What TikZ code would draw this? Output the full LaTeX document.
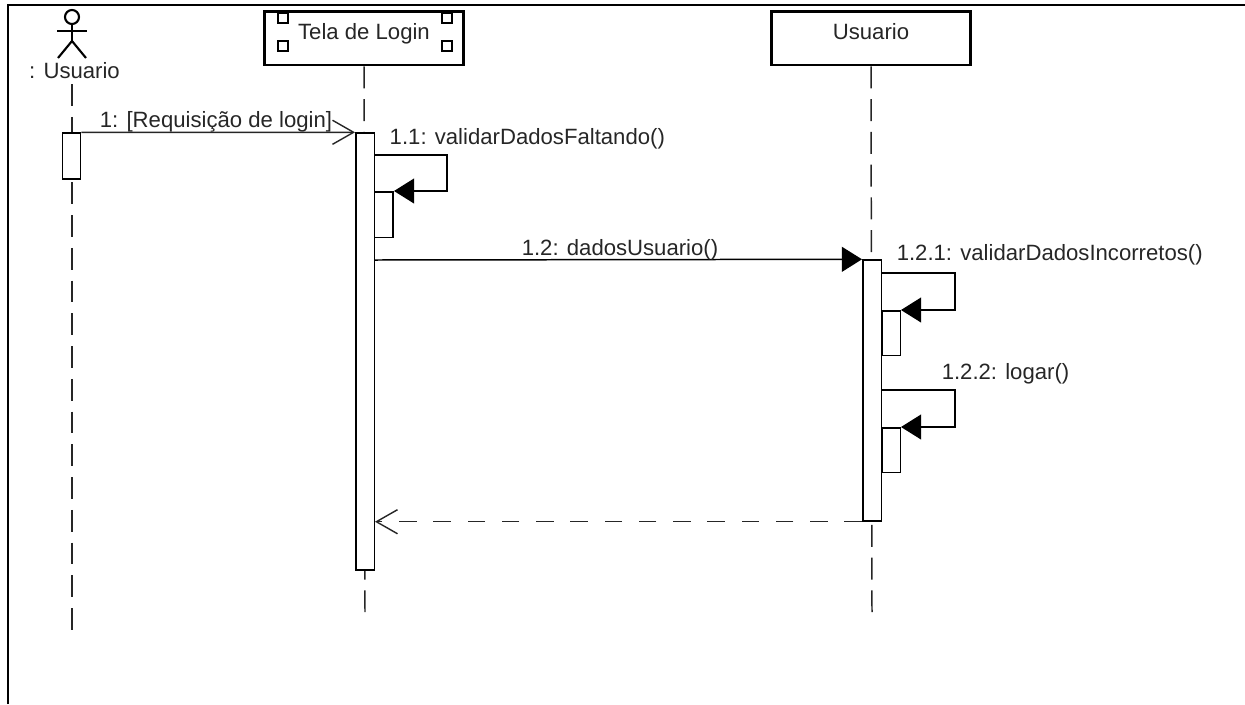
\documentclass[tikz,border=0pt]{standalone}
\usepackage{fontspec}
\setmainfont{Liberation Sans}
\usepackage{tikz}
\usetikzlibrary{arrows.meta,positioning}

\begin{document}
\begin{tikzpicture}[
  x=0.02cm, y=-0.02cm,
  line width=0.85pt,
  label/.style={inner sep=0pt, text=black!85, font=\fontsize{12.6pt}{14pt}\selectfont},
  obj/.style={draw, line width=1.7pt, fill=white, minimum width=3.98cm, minimum height=1.08cm, inner sep=0pt},
  port/.style={draw, line width=0.75pt, fill=white, minimum width=0.2cm, minimum height=0.2cm, inner sep=0pt},
  act/.style={draw, fill=white, minimum width=0.37cm, inner sep=0pt},
  life/.style={dash pattern=on 12.5pt off 6.14pt, black!85},
  call/.style={-{Triangle[length=11.5pt, width=14.2pt]}},
  open/.style={-{Straight Barb[length=12pt, width=13.7pt, line width=0.8pt]}, black!85},
  back/.style={open, dash pattern=on 10pt off 9.5pt}
]
\useasboundingbox (0,0) rectangle (1245,704);

% Frame
\draw[line width=1.2pt] (8,704) -- (8,5) -- (1245,5);

% Objects
\node[obj] (tela) at (364,38) {};
\node[obj] (usr) at (871,38) {};
\node[label] (telaTxt) at (364,34) {Tela de Login};
\node[label] (usrTxt) at (871,32) {Usuario};

% Ports of Tela de Login
\node[port] (p1) at (283,18) {};
\node[port] (p2) at (283,46) {};
\node[port] (p3) at (447,18) {};
\node[port] (p4) at (447,46) {};

% Actor
\node[draw, circle, minimum size=0.28cm, inner sep=0pt, line width=1.2pt] (head) at (72,17) {};
\coordinate (hip) at (72,41);
\coordinate (armL) at (57,31);
\coordinate (armR) at (87,31);
\coordinate (legL) at (58,58);
\coordinate (legR) at (86,58);
\draw[line width=1.2pt] (head) -- (hip);
\draw[line width=1.2pt] (armL) -- (armR);
\draw[line width=1.2pt] (legL) -- (hip) -- (legR);
\node[label] (actor) at (74.5,71) {: Usuario};

% Lifelines
\coordinate (l0a) at (72,84);
\coordinate (l0b) at (72,632);
\coordinate (l1b) at (365,612);
\coordinate (l2b) at (872,612);
\draw[life] (l0a) -- (l0b);
\draw[life] (tela.south) -- (l1b);
\draw[life] (usr.south) -- (l2b);

% Activations
\node[act, minimum height=0.92cm] (a0) at (71.5,156) {};
\node[act, minimum height=8.74cm] (a1) at (365,351.5) {};
\node[act, minimum height=5.22cm] (a2) at (872,390.5) {};

% Nested activations
\node[act, minimum height=0.92cm, anchor=north west] (a11) at (374,191) {};
\node[act, minimum height=0.9cm, anchor=north west] (a21) at (881,310) {};
\node[act, minimum height=0.9cm, anchor=north west] (a22) at (881,427) {};

% Message 1
\draw[open] (a0.north east) -- (a1.north west);
\node[label] (m1) at (216,122) {1: [Requisição de login]};

% Message 1.1
\coordinate (s1) at (a1.east |- 0,155);
\draw[call] (s1) -- (447,155) |- (a11.north east);
\node[label, anchor=west] (m11) at (389,139) {1.1: validarDadosFaltando()};

% Message 1.2
\coordinate (s2) at (a1.east |- 0,260);
\draw[call] (s2) -- (a2.north west);
\node[label] (m12) at (620,250) {1.2: dadosUsuario()};

% Message 1.2.1
\coordinate (s3) at (a2.east |- 0,273);
\draw[call] (s3) -- (955,273) |- (a21.north east);
\node[label, anchor=west] (m121) at (896,255) {1.2.1: validarDadosIncorretos()};

% Message 1.2.2
\coordinate (s4) at (a2.east |- 0,390);
\draw[call] (s4) -- (955,390) |- (a22.north east);
\node[label, anchor=west] (m122) at (941,374) {1.2.2: logar()};

% Return
\draw[back] (a2.south west) -- (a1.east |- a2.south west);

\end{tikzpicture}
\end{document}
